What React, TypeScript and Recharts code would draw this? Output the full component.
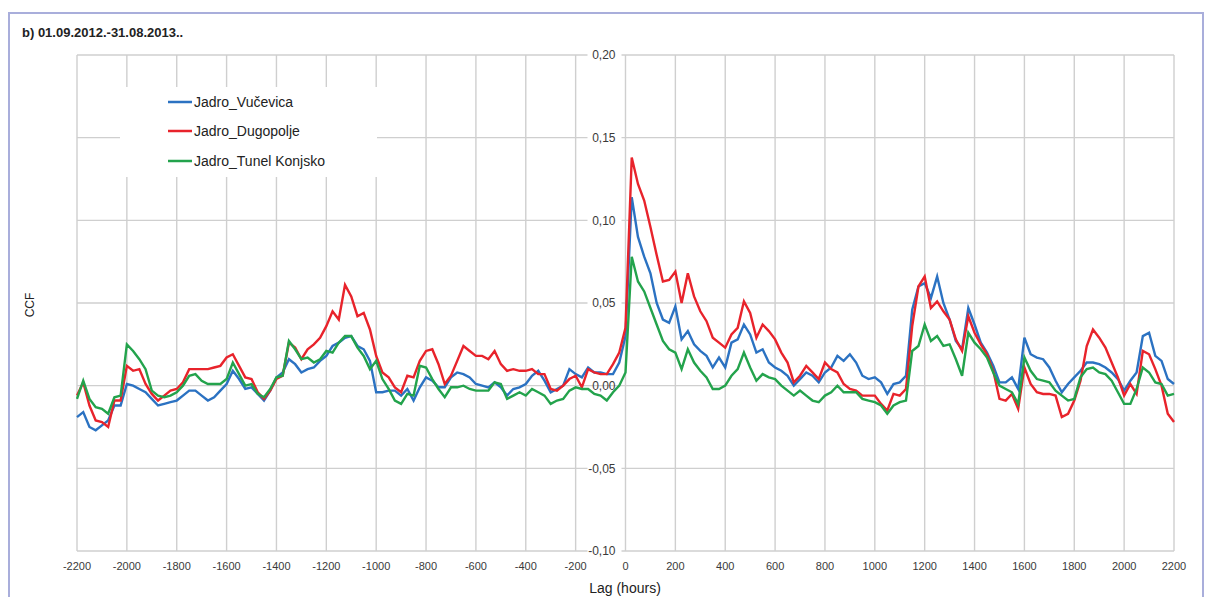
import React from "react";
import {
  LineChart,
  Line,
  XAxis,
  YAxis,
  CartesianGrid,
  ReferenceDot,
  Legend,
} from "recharts";

// lag (hours), every 25 h from -2200 to 2200
const LAGS = Array.from({ length: 177 }, (_, i) => -2200 + i * 25);

const X_TICKS = [
  -2200, -2000, -1800, -1600, -1400, -1200, -1000, -800, -600, -400, -200, 0,
  200, 400, 600, 800, 1000, 1200, 1400, 1600, 1800, 2000, 2200,
];
const Y_TICKS = [-0.1, -0.05, 0, 0.05, 0.1, 0.15, 0.2];

const VUCEVICA = [
  -0.019, -0.016, -0.025, -0.027, -0.024, -0.021, -0.012, -0.012,
  0.001, 0.0, -0.002, -0.004, -0.008, -0.012, -0.011, -0.01,
  -0.009, -0.006, -0.003, -0.003, -0.006, -0.009, -0.007, -0.003,
  0.001, 0.009, 0.004, -0.002, -0.001, -0.005, -0.009, -0.003,
  0.005, 0.008, 0.016, 0.013, 0.008, 0.01, 0.011, 0.015,
  0.018, 0.024, 0.026, 0.029, 0.03, 0.024, 0.022, 0.015,
  -0.004, -0.004, -0.003, -0.003, -0.006, -0.002, -0.009, -0.001,
  0.005, 0.003, -0.001, -0.001, 0.005, 0.008, 0.007, 0.005,
  0.001, 0.0, -0.001, 0.002, -0.001, -0.006, -0.002, -0.001,
  0.001, 0.006, 0.009, 0.003, -0.004, -0.002, 0.0, 0.01,
  0.007, 0.005, 0.011, 0.008, 0.008, 0.007, 0.007, 0.014,
  0.03,
  0.114, 0.09, 0.078, 0.068, 0.05, 0.04, 0.038, 0.048,
  0.028, 0.033, 0.025, 0.021, 0.018, 0.011, 0.017, 0.011,
  0.026, 0.028, 0.037, 0.031, 0.02, 0.022, 0.014, 0.011,
  0.009, 0.006, 0.0, 0.004, 0.008, 0.006, 0.002, 0.008,
  0.011, 0.018, 0.015, 0.019, 0.014, 0.006, 0.004, 0.005,
  0.002, -0.005, 0.001, 0.002, 0.006, 0.046, 0.06, 0.062,
  0.053, 0.066, 0.05, 0.04, 0.027, 0.022, 0.047, 0.037,
  0.026, 0.02, 0.012, 0.002, 0.002, 0.005, -0.002, 0.029,
  0.019, 0.017, 0.016, 0.011, 0.003, -0.004, 0.001, 0.005,
  0.009, 0.014, 0.014, 0.013, 0.011, 0.008, 0.004, -0.003,
  0.003, 0.008, 0.03, 0.032, 0.018, 0.015, 0.004, 0.001,
];

const DUGOPOLJE = [
  -0.006, 0.002, -0.012, -0.021, -0.022, -0.025, -0.009, -0.009,
  0.012, 0.009, 0.01, 0.001, -0.005, -0.009, -0.006, -0.003,
  -0.002, 0.002, 0.01, 0.01, 0.01, 0.01, 0.011, 0.012,
  0.017, 0.019, 0.012, 0.005, 0.004, -0.004, -0.008, -0.003,
  0.004, 0.006, 0.026, 0.023, 0.016, 0.022, 0.025, 0.029,
  0.036, 0.045, 0.04, 0.061, 0.054, 0.042, 0.044, 0.034,
  0.018, 0.008, 0.005, -0.001, -0.004, 0.006, 0.005, 0.015,
  0.021, 0.022, 0.013, 0.001, 0.006, 0.015, 0.024, 0.021,
  0.018, 0.018, 0.016, 0.021, 0.013, 0.009, 0.01, 0.009,
  0.009, 0.01, 0.007, 0.007, -0.002, -0.003, 0.0, 0.004,
  0.006, -0.001, 0.01, 0.008, 0.007, 0.007, 0.013, 0.02,
  0.035,
  0.138, 0.122, 0.112, 0.096, 0.079, 0.063, 0.064, 0.069,
  0.05, 0.068, 0.054, 0.045, 0.039, 0.029, 0.026, 0.023,
  0.031, 0.035, 0.051, 0.044, 0.029, 0.037, 0.033, 0.028,
  0.02, 0.014, 0.002, 0.006, 0.012, 0.008, 0.004, 0.014,
  0.01, 0.008, 0.001, -0.002, -0.003, -0.006, -0.006, -0.006,
  -0.011, -0.015, -0.005, -0.006, -0.002, 0.036, 0.06, 0.066,
  0.047, 0.051, 0.045, 0.04, 0.028, 0.021, 0.042, 0.032,
  0.025, 0.019, 0.009, -0.008, -0.009, -0.005, -0.014, 0.011,
  0.001, -0.004, -0.005, -0.005, -0.006, -0.019, -0.017, -0.009,
  0.003, 0.024, 0.034, 0.029, 0.023, 0.014, 0.005, -0.006,
  0.001, -0.005, 0.021, 0.019, 0.01, 0.0, -0.017, -0.022,
];

const TUNEL_KONJSKO = [
  -0.008, 0.003, -0.008, -0.013, -0.014, -0.017, -0.007, -0.006,
  0.025, 0.021, 0.016, 0.01, -0.003, -0.006, -0.007, -0.006,
  -0.004, 0.0, 0.006, 0.007, 0.003, 0.001, 0.001, 0.001,
  0.004, 0.014, 0.007, 0.0, 0.001, -0.005, -0.007, -0.002,
  0.005, 0.006, 0.027, 0.022, 0.016, 0.017, 0.014, 0.016,
  0.021, 0.02, 0.026, 0.03, 0.03, 0.023, 0.018, 0.01,
  0.015, 0.004, -0.002, -0.009, -0.011, -0.005, -0.006, 0.012,
  0.011, 0.004, -0.002, -0.007, -0.001, -0.001, 0.0, -0.002,
  -0.003, -0.003, -0.003, 0.002, 0.001, -0.008, -0.006, -0.004,
  -0.006, -0.002, -0.004, -0.006, -0.011, -0.009, -0.008, -0.003,
  -0.001, -0.002, -0.002, -0.005, -0.006, -0.009, -0.004, 0.0,
  0.008,
  0.078, 0.063, 0.057, 0.047, 0.037, 0.027, 0.022, 0.02,
  0.01, 0.022, 0.014, 0.009, 0.005, -0.002, -0.002, 0.0,
  0.006, 0.01, 0.02, 0.011, 0.003, 0.007, 0.005, 0.004,
  0.0, -0.003, -0.006, -0.003, -0.006, -0.009, -0.01, -0.006,
  -0.004, 0.0, -0.004, -0.004, -0.004, -0.008, -0.009, -0.01,
  -0.012, -0.017, -0.012, -0.01, -0.009, 0.021, 0.024, 0.037,
  0.027, 0.03, 0.024, 0.025, 0.016, 0.006, 0.032, 0.026,
  0.022, 0.017, 0.008, 0.0, -0.002, -0.004, -0.011, 0.017,
  0.009, 0.004, 0.003, 0.002, -0.003, -0.006, -0.009, -0.008,
  0.005, 0.01, 0.011, 0.008, 0.007, 0.003, -0.004, -0.011,
  -0.011, -0.002, 0.011, 0.008, 0.002, 0.001, -0.006, -0.005,
];

const SERIES = [
  { key: "vucevica", name: "Jadro_Vučevica", color: "#2b72c2" },
  { key: "dugopolje", name: "Jadro_Dugopolje", color: "#e8232b" },
  { key: "konjsko", name: "Jadro_Tunel Konjsko", color: "#23a34c" },
];

const data = LAGS.map((lag, i) => ({
  lag,
  vucevica: VUCEVICA[i],
  dugopolje: DUGOPOLJE[i],
  konjsko: TUNEL_KONJSKO[i],
}));

const fmt = (v: number) => v.toFixed(2).replace(".", ",");

const FONT = "'Liberation Sans', Arial, sans-serif";

// y tick label drawn left of the lag-0 line; a white patch breaks the gridline
function YTickLabel(props: any) {
  const { viewBox, value, patch } = props;
  if (!viewBox) return null;
  const x = viewBox.x;
  const y = viewBox.y;
  return (
    <g>
      {patch && <rect x={x - 38} y={y - 6} width={34} height={12} fill="#fff" />}
      <text
        x={x - 10}
        y={y}
        dy="0.35em"
        textAnchor="end"
        fontSize={12}
        fill="#3a3a3a"
        fontFamily={FONT}
      >
        {value}
      </text>
    </g>
  );
}

function LegendBox() {
  return (
    <div style={{ fontFamily: FONT, fontSize: 14, color: "#222" }}>
      {SERIES.map((s) => (
        <div
          key={s.key}
          style={{ display: "flex", alignItems: "center", height: 29.5, marginLeft: 48 }}
        >
          <svg width={24} height={6} style={{ marginRight: 2 }}>
            <line x1={0} y1={3} x2={24} y2={3} stroke={s.color} strokeWidth={2.5} />
          </svg>
          <span>{s.name}</span>
        </div>
      ))}
    </div>
  );
}

export default function App() {
  return (
    <div
      style={{
        position: "absolute",
        left: 0,
        top: 0,
        width: 1206,
        height: 597,
        overflow: "hidden",
        background: "#fff",
        fontFamily: FONT,
      }}
    >
      <div
        style={{
          position: "absolute",
          left: 8,
          top: 12,
          width: 1192,
          height: 620,
          borderLeft: "2px solid #a9aedb",
          borderTop: "2px solid #a9aedb",
          borderRight: "2px solid #a9aedb",
        }}
      />
      <div
        style={{
          position: "absolute",
          left: 22,
          top: 25,
          fontSize: 13,
          fontWeight: "bold",
          color: "#222",
        }}
      >
        b) 01.09.2012.-31.08.2013..
      </div>
      <div
        style={{
          position: "absolute",
          left: 30,
          top: 305,
          transform: "translate(-50%, -50%) rotate(-90deg)",
          fontSize: 12,
          color: "#222",
        }}
      >
        CCF
      </div>
      <div
        style={{
          position: "absolute",
          left: 625,
          top: 588,
          transform: "translate(-50%, -50%)",
          fontSize: 14,
          color: "#222",
          whiteSpace: "nowrap",
        }}
      >
        Lag (hours)
      </div>
      <div style={{ position: "absolute", left: 0, top: 0 }}>
        <LineChart
          width={1206}
          height={597}
          data={data}
          margin={{ top: 55, right: 32, bottom: 16, left: 77 }}
        >
          <CartesianGrid stroke="#cfcfcf" strokeWidth={1.4} />
          <XAxis
            dataKey="lag"
            type="number"
            domain={[-2200, 2200]}
            ticks={X_TICKS}
            interval={0}
            height={30}
            axisLine={false}
            tickLine={false}
            tickMargin={5}
            tick={{ fontSize: 11, fill: "#3a3a3a", fontFamily: FONT }}
          />
          <YAxis hide width={0} type="number" domain={[-0.1, 0.2]} ticks={Y_TICKS} />
          {Y_TICKS.map((t) => (
            <ReferenceDot
              key={t}
              x={0}
              y={t}
              r={0}
              fill="none"
              stroke="none"
              ifOverflow="visible"
              label={<YTickLabel value={fmt(t)} patch={t !== 0} />}
            />
          ))}
          <Legend
            layout="vertical"
            align="center"
            verticalAlign="middle"
            wrapperStyle={{
              left: 120,
              top: 87,
              width: 257,
              height: 90,
              background: "#fff",
            }}
            content={() => <LegendBox />}
          />
          {SERIES.map((s) => (
            <Line
              key={s.key}
              type="linear"
              dataKey={s.key}
              name={s.name}
              stroke={s.color}
              strokeWidth={2.4}
              dot={false}
              activeDot={false}
              isAnimationActive={false}
            />
          ))}
        </LineChart>
      </div>
    </div>
  );
}
